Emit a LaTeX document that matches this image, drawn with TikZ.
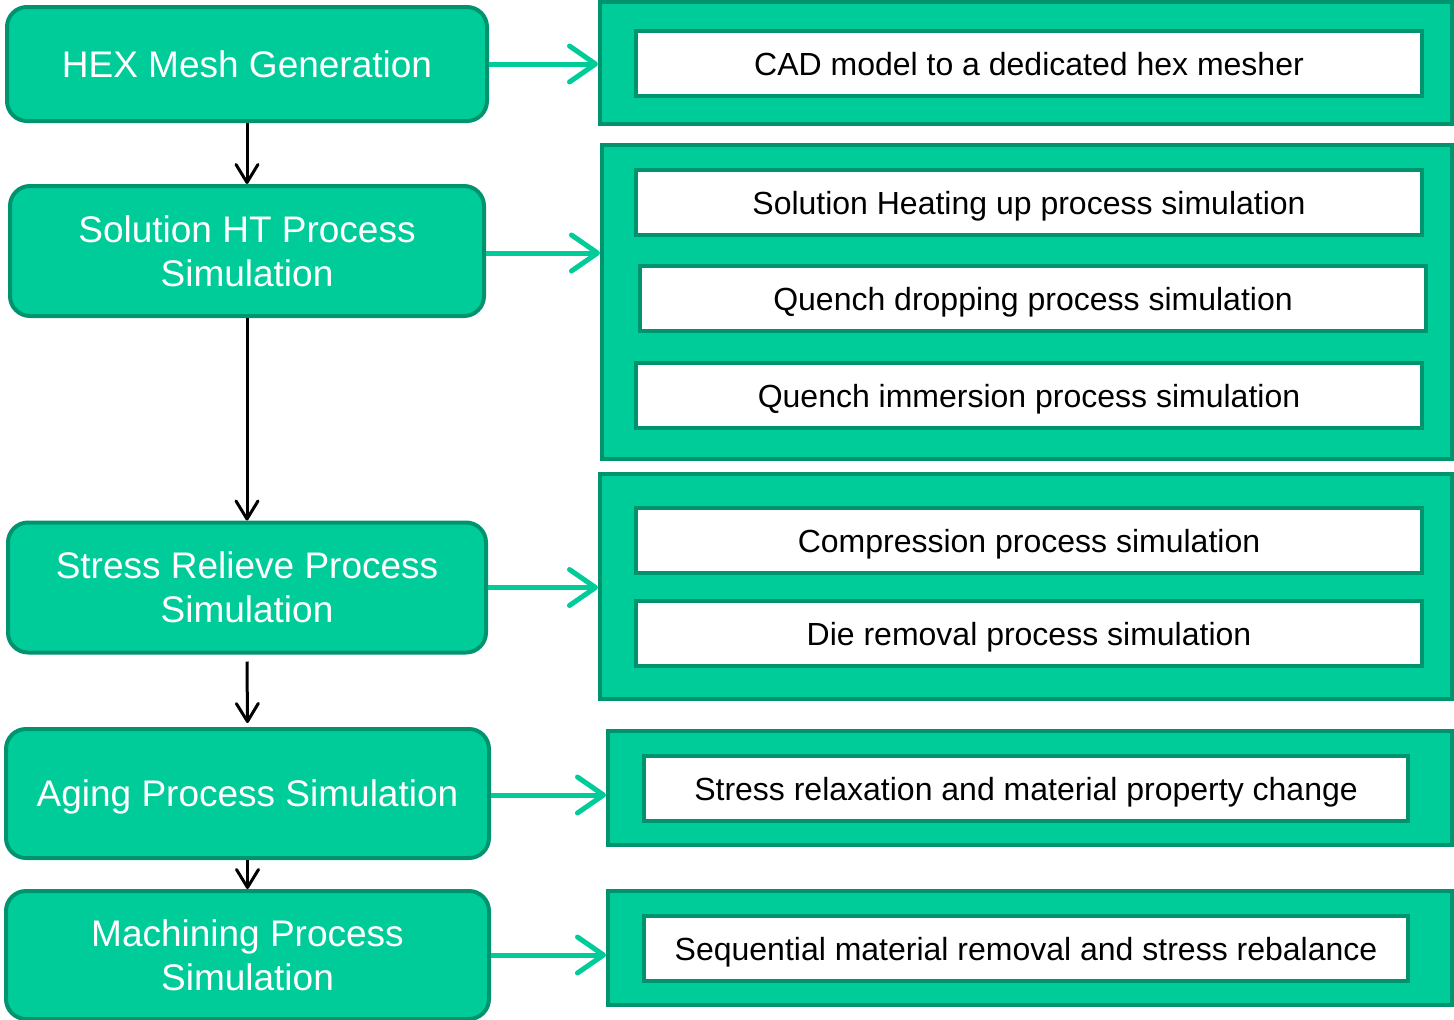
\documentclass[tikz,border=0pt]{standalone}
\usepackage{fontspec}
\setmainfont{Liberation Sans}
\usetikzlibrary{arrows.meta}
\definecolor{gfill}{RGB}{0,204,153}
\definecolor{gline}{RGB}{0,148,110}
\tikzset{
  stepbox/.style={draw=gline, fill=gfill, line width=4pt, rounded corners=20pt, text=white, font=\fontsize{37}{44}\selectfont, align=center, inner sep=0pt},
  outerbox/.style={draw=gline, fill=gfill, line width=4pt},
  innerbox/.style={draw=gline, fill=white, line width=4pt, font=\fontsize{32}{38}\selectfont, align=center, inner sep=0pt, text depth=0pt},
  blackarrow/.style={draw=black, line width=3pt, -{Straight Barb[length=18pt, width=22pt, line cap=round, line join=round]}},
  greenarrow/.style={draw=gfill, line width=5pt, -{Straight Barb[length=26pt, width=36pt, line cap=round, line join=round]}}
}
\begin{document}
\begin{tikzpicture}[x=1pt,y=-1pt]
\useasboundingbox (0,0) rectangle (1454,1020);
% left boxes
\node[stepbox, minimum width=480pt, minimum height=114pt] (hex) at (247,64) {HEX Mesh Generation};
\node[stepbox, minimum width=474pt, minimum height=130pt] (sol) at (247,251) {Solution HT Process\\Simulation};
\node[stepbox, minimum width=478pt, minimum height=130pt] (str) at (247,587.5) {Stress Relieve Process\\Simulation};
\node[stepbox, minimum width=483pt, minimum height=129pt, text depth=0pt] (age) at (247.5,793.5) {Aging Process Simulation};
\node[stepbox, minimum width=483pt, minimum height=128pt] (mac) at (247.5,955) {Machining Process\\Simulation};
% right outer boxes
\node[outerbox, minimum width=852pt, minimum height=122pt] (oa) at (1026,63) {};
\node[outerbox, minimum width=850pt, minimum height=314pt] (ob) at (1027,302) {};
\node[outerbox, minimum width=852pt, minimum height=225pt] (oc) at (1026,586.5) {};
\node[outerbox, minimum width=844pt, minimum height=114pt] (od) at (1030,788) {};
\node[outerbox, minimum width=844pt, minimum height=114pt] (oe) at (1030,948) {};
% inner boxes
\node[innerbox, minimum width=786pt, minimum height=65pt] (ia) at (1029,63.5) {CAD model to a dedicated hex mesher};
\node[innerbox, minimum width=786pt, minimum height=65pt] (ib1) at (1029,202.5) {Solution Heating up process simulation};
\node[innerbox, minimum width=786pt, minimum height=65pt] (ib2) at (1033,298.5) {Quench dropping process simulation};
\node[innerbox, minimum width=786pt, minimum height=65pt] (ib3) at (1029,395.5) {Quench immersion process simulation};
\node[innerbox, minimum width=786pt, minimum height=65pt] (ic1) at (1029,540.5) {Compression process simulation};
\node[innerbox, minimum width=786pt, minimum height=65pt] (ic2) at (1029,633.5) {Die removal process simulation};
\node[innerbox, minimum width=764pt, minimum height=65pt] (id) at (1026,788.5) {Stress relaxation and material property change};
\node[innerbox, minimum width=764pt, minimum height=65pt] (ie) at (1026,948.5) {Sequential material removal and stress rebalance};
% black arrows
\draw[blackarrow] (hex.south) -- (sol.north);
\draw[blackarrow] (sol.south) -- (str.north);
\draw[blackarrow] ([yshift=-7pt]str.south) -- ([yshift=4pt]age.north);
\draw[blackarrow] (age.south) -- (mac.north);
% green arrows
\draw[greenarrow] (hex.east) -- (hex.east -| oa.west);
\draw[greenarrow] ([yshift=-2pt]sol.east) -- ([yshift=-2pt]sol.east -| ob.west);
\draw[greenarrow] (str.east) -- (str.east -| oc.west);
\draw[greenarrow] ([yshift=-1.5pt]age.east) -- ([yshift=-1.5pt]age.east -| od.west);
\draw[greenarrow] (mac.east) -- (mac.east -| oe.west);
\end{tikzpicture}
\end{document}
